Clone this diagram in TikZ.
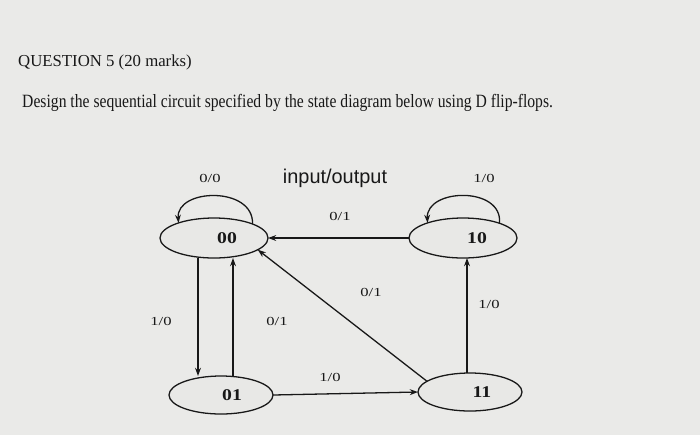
\documentclass[tikz,border=0pt]{standalone}
\usepackage{fontspec}
\setmainfont{Liberation Serif}
\newfontfamily\labsans{Liberation Sans}
\usetikzlibrary{shapes.geometric,arrows.meta,calc}
\definecolor{paper}{RGB}{234,234,232}
\definecolor{ellfill}{RGB}{232,232,230}
\definecolor{ink}{RGB}{24,24,24}
\begin{document}
\begin{tikzpicture}[x=0.03cm,y=-0.03cm,
  bigstate/.style={ellipse,draw=ink,line width=1.1pt,fill=ellfill,inner sep=0pt,outer sep=0pt,
    minimum width=3.24cm,minimum height=1.2cm,font=\fontsize{14}{16}\selectfont\bfseries,text=ink},
  smallstate/.style={bigstate,minimum width=3.12cm,minimum height=1.14cm},
  arr/.style={draw=ink,line width=1.1pt,-{Stealth[length=7pt,width=5pt]}},
  lab/.style={font=\fontsize{10.5}{12}\selectfont,text=ink,inner sep=0pt},
  heading/.style={anchor=west,inner sep=0pt,text=ink}]
\fill[paper] (0,0) rectangle (700,435);
\useasboundingbox (0,0) rectangle (700,435);

\node[heading,font=\fontsize{14.3}{16}\selectfont] (title) at (18,62) {QUESTION 5 (20 marks)};
\node[heading,font=\fontsize{16}{18}\selectfont] (task) at (22,103)
  {\scalebox{0.835}[1]{Design the sequential circuit specified by the state diagram below using D flip-flops.}};

\node[font=\labsans\fontsize{17}{19}\selectfont,text=ink,inner sep=0pt] (io) at (335,178) {input/output};

\node[bigstate] (s00) at (214,238) {\hspace*{0.78cm}\scalebox{1.2}[1]{00}};
\node[bigstate] (s10) at (463,238) {\hspace*{0.84cm}\scalebox{1.2}[1]{10}};
\node[smallstate] (s01) at (221,395) {\hspace*{0.66cm}\scalebox{1.2}[1]{01}};
\node[smallstate] (s11) at (470,392) {\hspace*{0.72cm}\scalebox{1.2}[1]{11}};

\coordinate (cL) at (198,0);
\coordinate (cR) at (233,0);
\coordinate (cV) at (467,0);

% self loops
\draw[arr] (s00.20) .. controls (254,186) and (176,188) .. (s00.157);
\draw[arr] (s10.22) .. controls (503,186) and (426,188) .. (s10.157);

% transitions
\draw[arr] (s10.west) -- (s00.east);
\draw[arr] (s00.south -| cL) -- (s01.north -| cL);
\draw[arr] (s01.north -| cR) -- (s00.south -| cR);
\draw[arr] (s11.166) -- (s00.345);
\draw[arr] (s01.east) -- (s11.west);
\draw[arr] (s11.north -| cV) -- (s10.south -| cV);

% labels
\node[lab] (l1) at (210,178) {\scalebox{1.35}[1]{0/0}};
\node[lab] (l2) at (484,178) {\scalebox{1.35}[1]{1/0}};
\node[lab] (l3) at (340,216) {\scalebox{1.35}[1]{0/1}};
\node[lab] (l4) at (371,292) {\scalebox{1.35}[1]{0/1}};
\node[lab] (l5) at (489,304) {\scalebox{1.35}[1]{1/0}};
\node[lab] (l6) at (161,321) {\scalebox{1.35}[1]{1/0}};
\node[lab] (l7) at (277,321) {\scalebox{1.35}[1]{0/1}};
\node[lab] (l8) at (330,377) {\scalebox{1.35}[1]{1/0}};
\end{tikzpicture}
\end{document}
